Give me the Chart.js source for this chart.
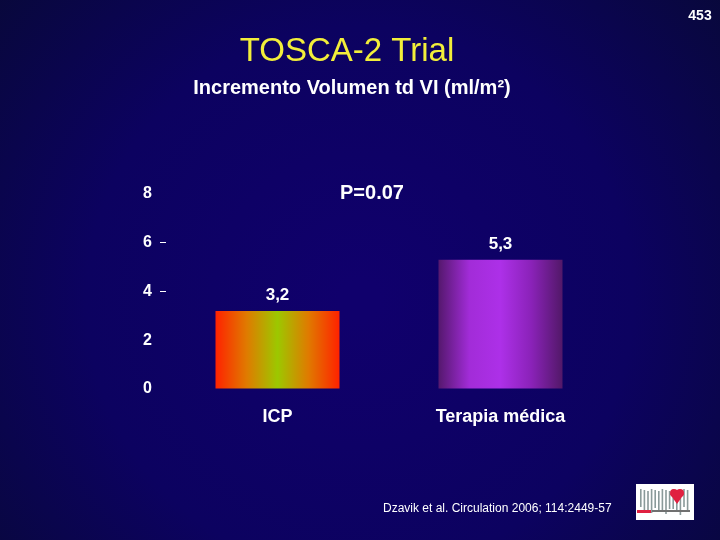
<!DOCTYPE html>
<html>
<head>
<meta charset="utf-8">
<script src="https://cdn.jsdelivr.net/npm/chart.js@4.4.0/dist/chart.umd.min.js"></script>
<style>
  html, body { margin: 0; padding: 0; background: #08083a; }
  #wrap { width: 720px; height: 540px; position: relative; }
</style>
</head>
<body>
<div id="wrap"><canvas id="myChart" width="720" height="540"></canvas></div>
<script>
/* data */
const categories = ['ICP', 'Terapia médica'];
const values = [3.2, 5.3];
const valueLabels = ['3,2', '5,3'];
const yTicks = [0, 2, 4, 6, 8];

const barColors = [
  ['#ff2200', '#e07a00', '#9cc800', '#e07a00', '#ff2200'],
  ['#55186e', '#a22cd8', '#ad30e8', '#8a22b8', '#521868']
];
const barPct = 0.556;

function barGradient(c) {
  const chart = c.chart;
  const cols = barColors[c.dataIndex] || barColors[0];
  if (!chart.chartArea) return cols[2];
  const xs = chart.scales.x;
  const cx = xs.getPixelForValue(c.dataIndex);
  const half = xs.width / categories.length * barPct / 2;
  const g = chart.ctx.createLinearGradient(cx - half, 0, cx + half, 0);
  cols.forEach(function(col, k) {
    g.addColorStop(k / (cols.length - 1), col);
  });
  return g;
}

/* background + texts */
const slidePlugin = {
  id: 'slide',
  beforeDraw: function(chart) {
    const c = chart.ctx;
    const g = c.createRadialGradient(360, 300, 20, 360, 300, 480);
    g.addColorStop(0, '#10006c');
    g.addColorStop(0.55, '#0c0260');
    g.addColorStop(1, '#08083a');
    c.save();
    c.fillStyle = g;
    c.fillRect(0, 0, chart.width, chart.height);
    c.restore();
  },
  afterDraw: function(chart) {
    const c = chart.ctx;
    const y = chart.scales.y;
    const meta = chart.getDatasetMeta(0);
    c.save();
    c.textAlign = 'center';
    c.textBaseline = 'middle';

    c.fillStyle = '#f2ee3a';
    c.font = '33px "Liberation Sans", Arial, sans-serif';
    c.fillText('TOSCA-2 Trial', 347, 52);

    c.fillStyle = '#ffffff';
    c.font = 'bold 20px "Liberation Sans", Arial, sans-serif';
    c.fillText('Incremento Volumen td VI (ml/m²)', 352, 88);

    c.font = 'bold 20px "Liberation Sans", Arial, sans-serif';
    c.fillText('P=0.07', 372, 193);

    c.font = 'bold 17px "Liberation Sans", Arial, sans-serif';
    meta.data.forEach(function(bar, i) {
      c.fillText(valueLabels[i], bar.x, y.getPixelForValue(values[i]) - 16);
    });

    c.font = 'bold 14px "Liberation Sans", Arial, sans-serif';
    c.fillText('453', 700, 16);

    c.font = '12px "Liberation Sans", Arial, sans-serif';
    c.textAlign = 'left';
    c.fillText('Dzavik et al. Circulation 2006; 114:2449-57', 383, 509);

    // little logo box
    c.fillStyle = '#ffffff';
    c.fillRect(636, 484, 58, 36);
    c.fillStyle = '#8a9a9a';
    for (let k = 0; k < 14; k++) {
      c.fillRect(640 + k * 3.6, 489 + (k % 3), 1.6, 18 + (k % 4) * 2);
    }
    c.fillStyle = '#e02040';
    c.beginPath();
    c.arc(674, 493, 4, 0, Math.PI * 2);
    c.arc(680, 493, 4, 0, Math.PI * 2);
    c.fill();
    c.beginPath();
    c.moveTo(670, 494);
    c.lineTo(684, 494);
    c.lineTo(677, 504);
    c.fill();
    c.fillRect(637, 510, 14, 3);
    c.fillStyle = '#707070';
    c.fillRect(652, 510, 38, 2);
    c.restore();
  }
};

let ctx = document.getElementById('myChart').getContext('2d');
// eslint-disable-next-line
let chart = new Chart(ctx, {
  type: 'bar',
  data: {
    labels: categories,
    datasets: [{
      data: values,
      backgroundColor: barGradient,
      borderWidth: 0,
      barPercentage: barPct,
      categoryPercentage: 1
    }]
  },
  options: {
    responsive: false,
    animation: false,
    layout: {
      padding: { left: 136, right: 108, top: 194, bottom: 111 }
    },
    plugins: {
      legend: { display: false },
      tooltip: { enabled: false }
    },
    scales: {
      x: {
        border: { display: false },
        grid: {
          drawOnChartArea: false,
          tickLength: 6,
          tickColor: function(c) { return c.index === categories.length ? '#c8c8c8' : 'transparent'; }
        },
        ticks: {
          color: '#ffffff',
          padding: 11,
          font: { family: '"Liberation Sans", Arial, sans-serif', size: 18, weight: 'bold' }
        },
        afterFit: function(scale) { scale.height = 40; }
      },
      y: {
        min: 0,
        max: 8,
        border: { display: false },
        grid: {
          drawOnChartArea: false,
          tickLength: 6,
          tickColor: function(c) {
            const v = c.tick ? c.tick.value : null;
            return (v === 4 || v === 6) ? '#ffffff' : 'transparent';
          }
        },
        afterBuildTicks: function(scale) {
          scale.ticks = yTicks.map(function(v) { return { value: v }; });
        },
        ticks: {
          color: '#ffffff',
          padding: 8,
          font: { family: '"Liberation Sans", Arial, sans-serif', size: 16, weight: 'bold' }
        },
        afterFit: function(scale) { scale.width = 30; }
      }
    }
  },
  plugins: [slidePlugin]
});
</script>
</body>
</html>
